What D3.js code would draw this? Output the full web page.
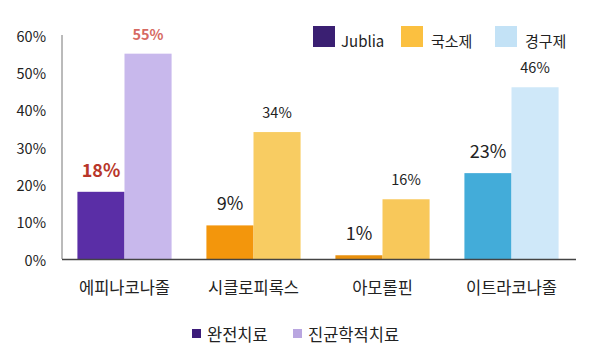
<!DOCTYPE html>
<html><head><meta charset="utf-8">
<script src="https://cdn.jsdelivr.net/npm/d3@7"></script>
<style>body{margin:0;background:#fff}svg{display:block}text{font-family:"Noto Sans CJK KR","Noto Sans",sans-serif}</style>
</head><body><svg id="c" width="598" height="360"></svg>
<script>
const categories = ["에피나코나졸", "시클로피록스", "아모롤핀", "이트라코나졸"];
const completeCure = [18, 9, 1, 23];
const mycologicalCure = [55, 34, 16, 46];
const yTicks = [0, 10, 20, 30, 40, 50, 60];
const seriesNames = ["완전치료", "진균학적치료"];
const typeLegend = ["Jublia", "국소제", "경구제"];
const darkColors = ["#5a2ea6", "#f3960c", "#e8900e", "#43acd9"];
const lightColors = ["#c8b8ec", "#f8cc62", "#f8c85a", "#cfe8f9"];
const typeColors = ["#3a1f72", "#fbc040", "#c3e2f6"];
const seriesColors = ["#3c1c7a", "#b9a6e0"];

const svg = d3.select("#c");
const x = d3.scaleBand().domain(categories).range([60, 576]).paddingInner(0.27).paddingOuter(0.135);
const sub = d3.scaleBand().domain([0, 1]).range([0, x.bandwidth()]);
const y = d3.scaleLinear().domain([0, 60]).range([259, 35]);

// y axis
svg.append("line").attr("x1", 62).attr("x2", 62).attr("y1", y(60)).attr("y2", y(0))
  .attr("stroke", "#777").attr("stroke-width", 1);
svg.selectAll(".yt").data(yTicks).enter().append("text")
  .attr("x", 46).attr("y", d => y(d)).attr("text-anchor", "end").attr("dominant-baseline", "central")
  .attr("font-size", 14.5).attr("fill", "#222").text(d => d + "%");

// bars
const rows = categories.map((c, i) => ({c, i, vals: [completeCure[i], mycologicalCure[i]]}));
const g = svg.selectAll(".grp").data(rows).enter().append("g").attr("transform", d => `translate(${x(d.c)},0)`);
g.each(function(d) {
  const gg = d3.select(this);
  d.vals.forEach((v, k) => {
    gg.append("rect").attr("x", sub(k)).attr("width", sub.bandwidth())
      .attr("y", y(v)).attr("height", y(0) - y(v))
      .attr("fill", k === 0 ? darkColors[d.i] : lightColors[d.i]);
    const first = d.i === 0;
    gg.append("text").attr("x", sub(k) + sub.bandwidth() / 2)
      .attr("y", y(v) - (k === 0 ? 15 : 14))
      .attr("text-anchor", "middle")
      .attr("font-size", k === 0 ? 18 : 14.5)
      .attr("font-weight", first ? "bold" : "normal")
      .attr("fill", first ? (k === 0 ? "#b8362a" : "#d66a62") : "#222")
      .text(v + "%");
  });
});

// x axis
svg.append("line").attr("x1", 62).attr("x2", 576).attr("y1", y(0) + 0.5).attr("y2", y(0) + 0.5)
  .attr("stroke", "#444").attr("stroke-width", 1.5);
svg.selectAll(".xl").data(categories).enter().append("text")
  .attr("x", d => x(d) + x.bandwidth() / 2).attr("y", 287)
  .attr("text-anchor", "middle").attr("dominant-baseline", "central")
  .attr("font-size", 16.5).attr("fill", "#222").text(d => d);

// top legend
const tlx = [313, 401, 495];
typeLegend.forEach((t, i) => {
  svg.append("rect").attr("x", tlx[i]).attr("y", 26).attr("width", 22).attr("height", 21).attr("fill", typeColors[i]);
  svg.append("text").attr("x", tlx[i] + (i === 0 ? 28 : 30)).attr("y", 40).attr("dominant-baseline", "central")
    .attr("font-size", 15).attr("fill", "#222").text(t);
});

// bottom legend
const blx = [192, 293];
seriesNames.forEach((t, i) => {
  svg.append("rect").attr("x", blx[i]).attr("y", 329).attr("width", 9).attr("height", 9).attr("fill", seriesColors[i]);
  svg.append("text").attr("x", blx[i] + 15).attr("y", 334).attr("dominant-baseline", "central")
    .attr("font-size", 16.5).attr("fill", "#222").text(t);
});
</script></body></html>
